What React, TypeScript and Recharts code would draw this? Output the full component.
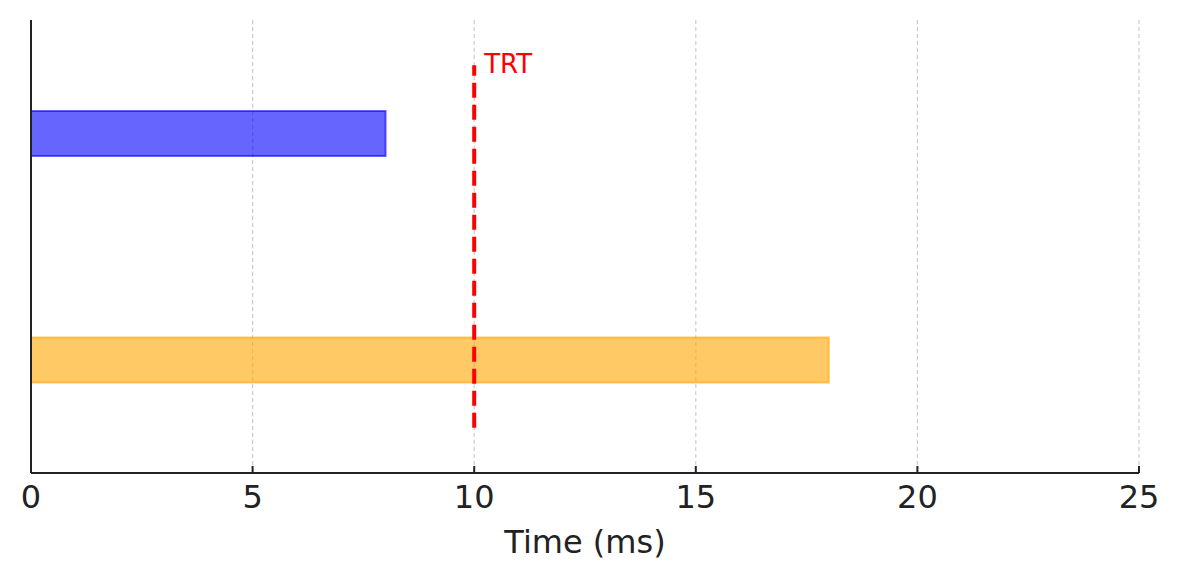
import React from "react"
import {
  BarChart,
  Bar,
  Cell,
  XAxis,
  YAxis,
  CartesianGrid,
  ReferenceLine,
  ReferenceDot,
} from "recharts"

const stations = ["Station 1", "Station 2"]
const positions = [1, 0]
const times = [8, 18]
const barColors = ["#0000ff", "#ffa500"]
const xTicks = [0, 5, 10, 15, 20, 25]
const trt = 10
const trtSpan = [-0.3, 1.3]

const data = stations.map((name, i) => ({ name, pos: positions[i], time: times[i] }))

const FONT = "DejaVu Sans, sans-serif"

const XTick = (props: any) => {
  const { x, y, payload } = props
  return (
    <g>
      <line x1={x} x2={x} y1={y - 7} y2={y} stroke="#222" strokeWidth={2} />
      <text
        x={x}
        y={y + 35}
        textAnchor="middle"
        fontSize={32}
        fontFamily={FONT}
        fill="#222"
      >
        {payload.value}
      </text>
    </g>
  )
}

export default function App() {
  return (
    <div style={{ position: "absolute", left: 0, top: 0, background: "#fff" }}>
      <BarChart
        width={1180}
        height={580}
        data={data}
        layout="vertical"
        margin={{ top: 20, right: 41, bottom: 0, left: 0 }}
      >
        <CartesianGrid
          horizontal={false}
          stroke="#cccccc"
          strokeDasharray="4 3"
          strokeWidth={1.2}
        />
        <XAxis
          type="number"
          dataKey="time"
          domain={[0, 25]}
          ticks={xTicks}
          height={107}
          tickSize={0}
          tickMargin={0}
          tickLine={false}
          tick={<XTick />}
          axisLine={{ stroke: "#222", strokeWidth: 2 }}
          label={{
            value: "Time (ms)",
            position: "insideBottom",
            offset: 27,
            fontSize: 32,
            fontFamily: FONT,
            fill: "#222",
          }}
        />
        <YAxis
          type="number"
          dataKey="pos"
          domain={[-0.5, 1.5]}
          reversed
          width={31}
          tick={false}
          tickLine={false}
          axisLine={{ stroke: "#222", strokeWidth: 2 }}
        />
        <Bar dataKey="time" barSize={45} isAnimationActive={false}>
          {data.map((d, i) => (
            <Cell
              key={d.name}
              fill={barColors[i]}
              fillOpacity={0.6}
              stroke={barColors[i]}
              strokeOpacity={0.6}
              strokeWidth={2}
            />
          ))}
        </Bar>
        <ReferenceLine
          segment={[
            { x: trt, y: trtSpan[0] },
            { x: trt, y: trtSpan[1] },
          ]}
          stroke="#ff0000"
          strokeWidth={4}
          strokeDasharray="15 7"
        />
        <ReferenceDot
          x={trt}
          y={trtSpan[1]}
          r={0}
          stroke="none"
          label={{
            value: "TRT",
            position: "right",
            offset: 10,
            dy: -2,
            fontSize: 26,
            fontFamily: FONT,
            fill: "#ff0000",
          }}
        />
      </BarChart>
    </div>
  )
}
